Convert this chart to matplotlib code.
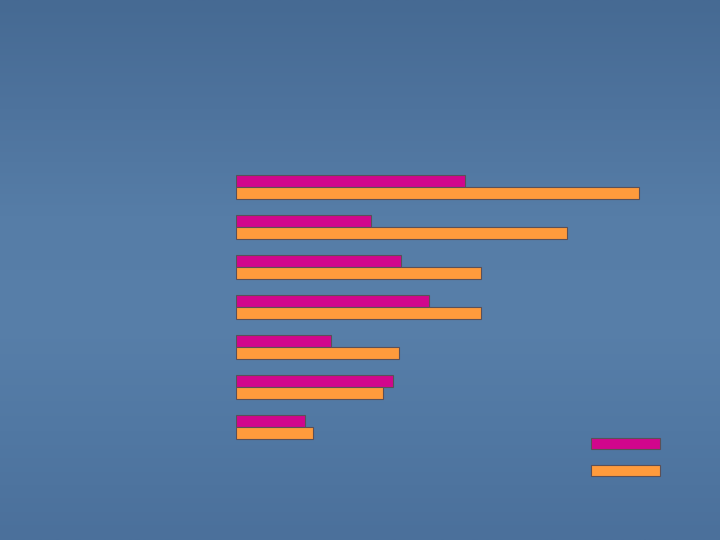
import numpy as np
import matplotlib.pyplot as plt
from matplotlib.patches import Patch
from matplotlib.colors import LinearSegmentedColormap

# values (same scale for both series)
categories = ['1', '2', '3', '4', '5', '6', '7']
series_a = [229, 135, 165, 193, 95, 157, 69]    # magenta
series_b = [403, 331, 245, 245, 163, 147, 77]   # orange

magenta = '#d1068c'
orange = '#ff9b3c'
edge = '#5b5057'

fig = plt.figure(figsize=(7.2, 5.4), dpi=100)

# slide background: blue gradient
bg = fig.add_axes([0, 0, 1, 1])
bg_cmap = LinearSegmentedColormap.from_list(
    'slide', ['#466a93', '#4e739d', '#567da7', '#587fa9', '#5178a3', '#4b709b'])
grad = np.linspace(0, 1, 256).reshape(-1, 1)
bg.imshow(grad, aspect='auto', cmap=bg_cmap, extent=[0, 1, 0, 1], origin='upper')
bg.set_axis_off()

ax = fig.add_axes([236 / 720, 81 / 540, 424 / 720, 300 / 540])
ax.patch.set_alpha(0)
y = np.arange(len(categories))
h = 0.3
ax.barh(y - h / 2, series_a, height=h, color=magenta, edgecolor=edge, linewidth=0.8)
ax.barh(y + h / 2, series_b, height=h, color=orange, edgecolor=edge, linewidth=0.8)
ax.set_xlim(0, 424)
ax.set_ylim(6.8125, -0.6875)
ax.set_axis_off()

handles = [Patch(facecolor=magenta, edgecolor=edge, linewidth=0.8),
           Patch(facecolor=orange, edgecolor=edge, linewidth=0.8)]
fig.legend(handles=handles, labels=['', ''], loc='upper left',
           bbox_to_anchor=(591 / 720, 1 - 437 / 540), frameon=False,
           handlelength=5, handleheight=0.86, handletextpad=0,
           borderpad=0, borderaxespad=0, labelspacing=0.93)

fig.savefig('out.png', dpi=100)
